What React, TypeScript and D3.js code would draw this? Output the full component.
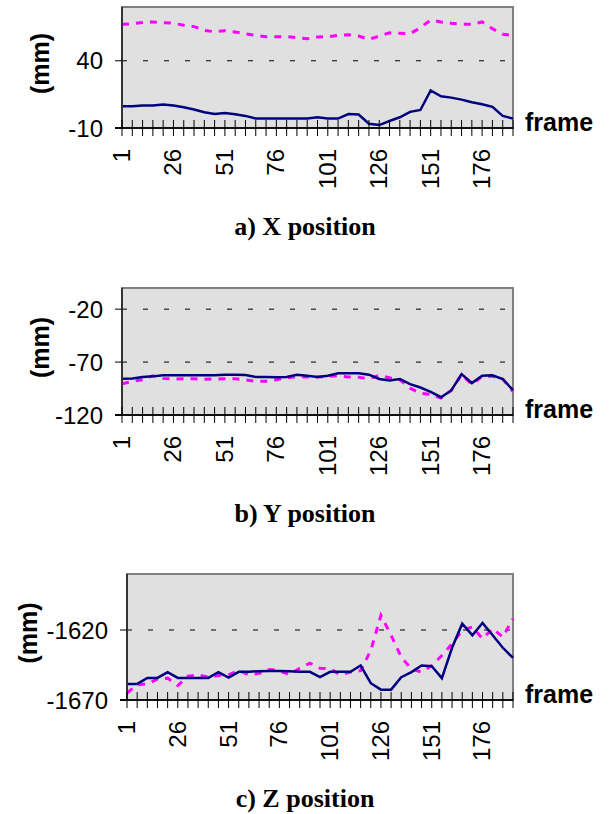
import React from 'react';
import * as d3 from 'd3';

// frame numbers (every 5th frame)
const frames = [1, 6, 11, 16, 21, 26, 31, 36, 41, 46, 51, 56, 61, 66, 71, 76, 81, 86, 91, 96,
  101, 106, 111, 116, 121, 126, 131, 136, 141, 146, 151, 156, 161, 166, 171, 176, 181, 186, 191];
const frameLabels = [1, 26, 51, 76, 101, 126, 151, 176];

// X position (mm)
const xSolid = [6.2, 6.2, 6.7, 6.7, 7.4, 6.7, 5.4, 3.7, 1.7, 0.4, 1.2, 0.2, -1.0, -3.0, -3.0, -3.0, -3.0, -3.0, -3.0, -2.0,
  -3.0, -3.0, 0.4, 0.0, -6.8, -7.8, -4.8, -2.0, 2.0, 3.4, 17.9, 13.6, 12.6, 11.1, 9.2, 7.7, 5.7, -1.0, -3.0];
const xDashed = [67.1, 67.6, 68.4, 68.9, 68.4, 67.9, 66.4, 65.4, 62.6, 61.6, 62.4, 61.4, 60.1, 58.9, 57.9, 57.9, 57.9, 57.2, 56.4, 57.7,
  57.9, 58.9, 59.4, 58.4, 55.9, 58.4, 60.8, 60.4, 60.1, 64.6, 70.3, 68.9, 67.9, 67.1, 67.1, 68.9, 63.9, 59.7, 58.9];

// Y position (mm)
const ySolid = [-85.7, -85.4, -84.1, -83.5, -82.5, -82.5, -82.5, -82.5, -82.5, -82.5, -81.9, -81.9, -82.2, -84.1, -84.1, -84.4, -84.1, -81.9, -82.9, -84.1,
  -82.9, -80.6, -80.6, -80.6, -81.9, -86.0, -87.3, -86.0, -90.8, -94.0, -98.1, -103.2, -96.8, -81.3, -89.8, -82.9, -82.5, -86.0, -96.5];
const yDashed = [-90.5, -88.3, -86.7, -82.9, -85.4, -86.0, -85.7, -85.7, -86.3, -86.0, -85.7, -85.7, -86.7, -88.3, -88.0, -86.7, -84.8, -83.8, -84.1, -84.1,
  -83.5, -82.9, -84.1, -84.4, -85.7, -82.5, -84.8, -86.7, -94.6, -99.4, -100.6, -104.1, -96.8, -81.9, -91.1, -83.5, -83.5, -86.0, -97.8];

// Z position (mm)
const zSolid = [-1658.5, -1658.5, -1654.2, -1654.2, -1650.1, -1654.2, -1654.2, -1654.2, -1654.2, -1650.1, -1654.0, -1649.9, -1649.9, -1649.4, -1649.2, -1649.2, -1649.4, -1649.9, -1649.9, -1653.7,
  -1649.9, -1649.9, -1649.9, -1645.4, -1658.0, -1662.6, -1662.6, -1653.7, -1650.1, -1645.4, -1645.8, -1654.4, -1632.7, -1615.5, -1623.8, -1615.0, -1623.8, -1632.7, -1639.9];
const zDashed = [-1665.0, -1659.2, -1658.5, -1655.0, -1654.4, -1659.7, -1653.0, -1652.0, -1653.7, -1652.5, -1652.0, -1649.0, -1652.0, -1651.0, -1648.2, -1649.0, -1652.0, -1647.3, -1643.7, -1647.3,
  -1647.8, -1652.0, -1650.1, -1649.0, -1634.6, -1609.5, -1623.8, -1639.4, -1647.8, -1650.1, -1645.4, -1638.2, -1629.8, -1620.2, -1617.8, -1626.2, -1619.0, -1625.0, -1611.9];

const xTicks = [-10, 40];
const yTicks = [-120, -70, -20];
const zTicks = [-1670, -1620];

const sans = '"Liberation Sans", Arial, sans-serif';
const serif = '"Liberation Serif", "Times New Roman", serif';

type PanelProps = {
  top: number;
  bottom: number;
  left: number;
  right: number;
  unitX: number;
  domain: [number, number];
  ticks: number[];
  solid: number[];
  dashed: number[];
  caption: string;
};

function Panel({top, bottom, left, right, unitX, domain, ticks, solid, dashed, caption}: PanelProps) {
  const x = d3.scalePoint<number>().domain(frames).range([left, right]);
  const y = d3.scaleLinear().domain(domain).range([bottom, top]);
  const line = d3
    .line<number>()
    .x((_, i) => x(frames[i]) as number)
    .y(d => y(d));

  return (
    <g>
      <rect x={left} y={top} width={right - left} height={bottom - top} fill="#e0e0e0" stroke="#808080" strokeWidth={2} />
      {ticks.slice(1).map(t => (
        <line key={'g' + t} x1={left} x2={right} y1={y(t)} y2={y(t)} stroke="#000" strokeWidth={1} strokeDasharray="5,16" />
      ))}
      <path d={line(dashed) || ''} fill="none" stroke="#ff00ff" strokeWidth={3} strokeDasharray="7,7" />
      <path d={line(solid) || ''} fill="none" stroke="#000080" strokeWidth={2.5} />
      {/* axes */}
      <line x1={left} x2={left} y1={top} y2={bottom} stroke="#333" strokeWidth={2} />
      <line x1={left - 7} x2={right} y1={bottom} y2={bottom} stroke="#111" strokeWidth={2} />
      {frames.map(f => (
        <line key={'t' + f} x1={x(f)} x2={x(f)} y1={bottom - 8} y2={bottom + 8} stroke="#000" strokeWidth={1} />
      ))}
      {ticks.map(t => (
        <g key={'y' + t}>
          <line x1={left - 7} x2={left} y1={y(t)} y2={y(t)} stroke="#000" strokeWidth={1} />
          <text x={left - 19} y={y(t)} dy="0.36em" textAnchor="end" fontFamily={sans} fontSize={24}>
            {t}
          </text>
        </g>
      ))}
      {frameLabels.map(f => (
        <text
          key={'l' + f}
          transform={`translate(${x(f)},${bottom + 21}) rotate(-90)`}
          dy="0.33em"
          textAnchor="end"
          fontFamily={sans}
          fontSize={24}
        >
          {f}
        </text>
      ))}
      <text x={right + 12} y={bottom + 3} fontFamily={sans} fontSize={25} fontWeight="bold">
        frame
      </text>
      <text
        transform={`translate(${unitX},${(top + bottom) / 2 - 4}) rotate(-90)`}
        dy="0.35em"
        textAnchor="middle"
        fontFamily={sans}
        fontSize={25}
        fontWeight="bold"
      >
        (mm)
      </text>
      <text x={305} y={bottom + 107} textAnchor="middle" fontFamily={serif} fontSize={26} fontWeight="bold">
        {caption}
      </text>
    </g>
  );
}

export default function App() {
  return (
    <svg width={609} height={814} style={{position: 'absolute', left: 0, top: 0, background: '#fff'}}>
      <Panel top={7} bottom={128} left={122} right={513} unitX={40} domain={[-10, 80]} ticks={xTicks} solid={xSolid} dashed={xDashed} caption="a) X position" />
      <Panel top={288} bottom={415} left={122} right={513} unitX={40} domain={[-120, 0]} ticks={yTicks} solid={ySolid} dashed={yDashed} caption="b) Y position" />
      <Panel top={574} bottom={700} left={127} right={513} unitX={28} domain={[-1670, -1580]} ticks={zTicks} solid={zSolid} dashed={zDashed} caption="c) Z position" />
    </svg>
  );
}
